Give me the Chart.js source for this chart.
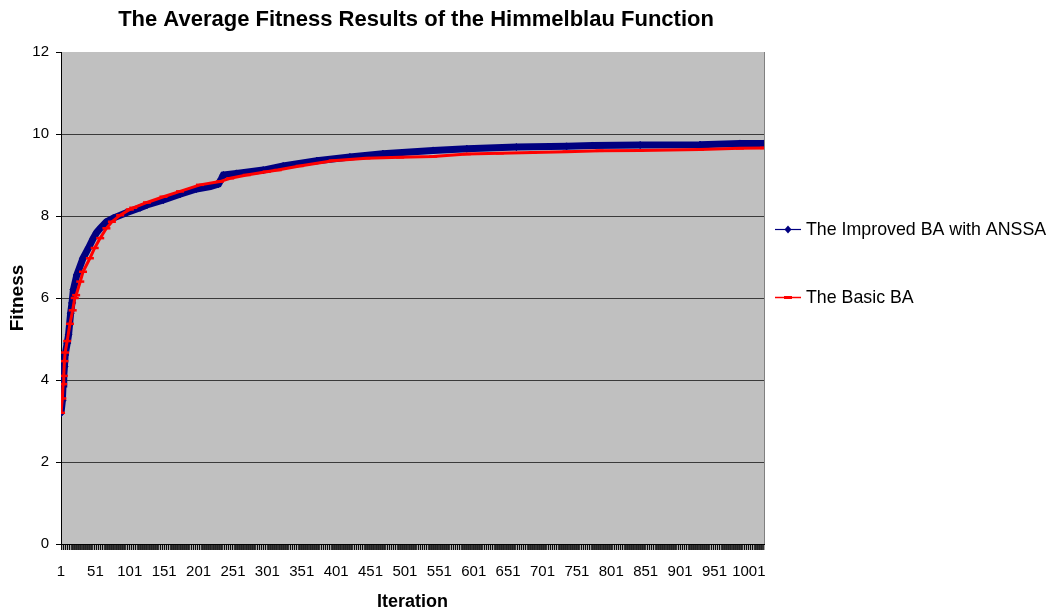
<!DOCTYPE html>
<html>
<head>
<meta charset="utf-8">
<title>Himmelblau average fitness</title>
<script src="https://cdn.jsdelivr.net/npm/chart.js@4.4.1/dist/chart.umd.min.js"></script>
<style>
  html, body { margin: 0; padding: 0; background: #fff; }
  #chart { display: block; }
</style>
</head>
<body>
<canvas id="chart" width="1056" height="616"></canvas>
<script>
// values (iteration -> average fitness)
const improvedIter = [1, 3, 4, 5, 6, 7, 10, 12, 15, 17, 19, 24, 33, 41, 48, 53, 58, 67, 77, 96,
  116, 126, 150, 174, 198, 218, 230, 234, 237, 256, 295, 324, 373, 421, 469, 542, 591, 663, 736,
  774, 843, 930, 988, 1023];
const improvedFit = [3.19, 3.5, 3.9, 4.1, 4.33, 4.61, 4.9, 5.1, 5.63, 5.88, 6.2, 6.56, 6.97, 7.22,
  7.46, 7.6, 7.7, 7.86, 7.95, 8.08, 8.2, 8.27, 8.39, 8.53, 8.66, 8.72, 8.78, 8.9, 9.0, 9.04, 9.12,
  9.22, 9.35, 9.44, 9.52, 9.6, 9.64, 9.68, 9.7, 9.72, 9.73, 9.74, 9.77, 9.77];

const basicIter = [1, 3, 4, 5, 6, 7, 10, 14, 18, 21, 23, 29, 33, 43, 50, 58, 67, 75, 87, 101, 106,
  126, 150, 174, 203, 232, 247, 271, 300, 316, 348, 396, 445, 494, 542, 591, 639, 687, 736, 784,
  843, 930, 988, 1023];
const basicFit = [3.2, 3.55, 3.9, 4.1, 4.46, 4.67, 4.95, 5.37, 5.7, 6.0, 6.07, 6.4, 6.64, 6.97,
  7.22, 7.46, 7.7, 7.86, 8.02, 8.16, 8.2, 8.33, 8.47, 8.6, 8.76, 8.84, 8.92, 9.0, 9.08, 9.12, 9.22,
  9.35, 9.41, 9.43, 9.45, 9.51, 9.53, 9.55, 9.57, 9.59, 9.6, 9.62, 9.65, 9.66];

const seriesNames = ['The Improved BA with ANSSA', 'The Basic BA'];
const xTickLabels = [1, 51, 101, 151, 201, 251, 301, 351, 401, 451, 501, 551, 601, 651, 701, 751,
  801, 851, 901, 951, 1001];
const yTickLabels = [0, 2, 4, 6, 8, 10, 12];
const lastIter = 1023;

const FONT = "'Liberation Sans', Arial, sans-serif";

// one tick mark per iteration, like the dense category ticks in the original
const xTickMarks = [];
for (let v = 1; v <= lastIter; v++) xTickMarks.push(v);

// grey plot area + right border
const plotBackground = {
  id: 'plotBackground',
  beforeDraw(chart) {
    const { ctx, chartArea: a } = chart;
    ctx.save();
    ctx.fillStyle = '#c0c0c0';
    ctx.fillRect(a.left, a.top, a.right - a.left, a.bottom - a.top);
    ctx.restore();
  },
  afterDatasetsDraw(chart) {
    const { ctx, chartArea: a } = chart;
    ctx.save();
    ctx.strokeStyle = '#808080';
    ctx.lineWidth = 1;
    ctx.beginPath();
    ctx.moveTo(a.right + 0.5, a.top);
    ctx.lineTo(a.right + 0.5, a.bottom);
    ctx.stroke();
    ctx.restore();
  }
};

// legend on the right: short line with the series marker in its middle
const sideLegend = {
  id: 'sideLegend',
  afterDraw(chart) {
    const { ctx, chartArea: a } = chart;
    const x0 = a.right + 11;
    const rows = [a.top + 177, a.top + 245];
    chart.data.datasets.forEach((ds, i) => {
      const y = rows[i];
      ctx.save();
      ctx.strokeStyle = ds.borderColor;
      ctx.lineWidth = i === 0 ? 1.2 : 1.5;
      ctx.beginPath();
      ctx.moveTo(x0, y + 0.5);
      ctx.lineTo(x0 + 26, y + 0.5);
      ctx.stroke();
      const cx = x0 + 13;
      ctx.fillStyle = ds.borderColor;
      if (ds.pointStyle === 'rectRot') {
        ctx.beginPath();
        ctx.moveTo(cx, y - 3.5);
        ctx.lineTo(cx + 3.5, y + 0.5);
        ctx.lineTo(cx, y + 4.5);
        ctx.lineTo(cx - 3.5, y + 0.5);
        ctx.closePath();
        ctx.fill();
      } else {
        ctx.fillRect(cx - 4, y - 1, 8, 3);
      }
      ctx.fillStyle = '#000';
      ctx.font = '17.8px ' + FONT;
      ctx.textBaseline = 'middle';
      ctx.textAlign = 'left';
      ctx.fillText(ds.label, x0 + 31, y + 1);
      ctx.restore();
    });
  }
};

new Chart(document.getElementById('chart'), {
  type: 'line',
  data: {
    datasets: [
      {
        label: seriesNames[0],
        data: improvedIter.map((x, i) => ({ x, y: improvedFit[i] })),
        borderColor: '#000080',
        backgroundColor: '#000080',
        borderWidth: 7,
        pointStyle: 'rectRot',
        pointRadius: 3.5,
        pointBorderWidth: 1,
        pointBackgroundColor: '#000080',
        pointBorderColor: '#000080',
        tension: 0,
        order: 2
      },
      {
        label: seriesNames[1],
        data: basicIter.map((x, i) => ({ x, y: basicFit[i] })),
        borderColor: '#ff0000',
        backgroundColor: '#ff0000',
        borderWidth: 3,
        pointStyle: 'line',
        pointRadius: 4,
        pointBorderWidth: 2.5,
        pointBorderColor: '#ff0000',
        tension: 0,
        order: 1
      }
    ]
  },
  options: {
    responsive: false,
    animation: false,
    events: [],
    layout: { padding: { left: 0, right: 224, top: 0, bottom: 0 } },
    plugins: {
      legend: { display: false },
      tooltip: { enabled: false },
      title: {
        display: true,
        text: 'The Average Fitness Results of the Himmelblau Function',
        color: '#000',
        font: { family: FONT, size: 22, weight: 'bold' },
        padding: { top: 7, bottom: 18.6 }
      }
    },
    scales: {
      x: {
        type: 'linear',
        min: 1,
        max: lastIter,
        afterBuildTicks: s => { s.ticks = xTickMarks.map(v => ({ value: v })); },
        afterFit: s => { s.height = 72; },
        ticks: {
          autoSkip: false,
          maxRotation: 0,
          padding: 13,
          color: '#000',
          font: { family: FONT, size: 15 },
          callback: v => (xTickLabels.includes(v) ? String(v) : '')
        },
        grid: {
          drawOnChartArea: false,
          drawTicks: true,
          tickLength: 6,
          tickWidth: c => (c.index % 3 === 2 ? 0.35 : 0.8),
          color: '#000',
          tickColor: '#000'
        },
        border: { color: '#000', width: 1 },
        title: {
          display: true,
          text: 'Iteration',
          color: '#000',
          font: { family: FONT, size: 18, weight: 'bold' },
          padding: { top: 0, bottom: 3 }
        }
      },
      y: {
        min: 0,
        max: 12,
        afterBuildTicks: s => { s.ticks = yTickLabels.map(v => ({ value: v })); },
        afterFit: s => { s.width = 61; },
        ticks: {
          padding: 7,
          color: '#000',
          font: { family: FONT, size: 15 }
        },
        grid: {
          color: c => (c.tick && c.tick.value === 12 ? 'rgba(0,0,0,0)' : '#3a3a3a'),
          tickColor: '#000',
          tickLength: 5,
          lineWidth: 1
        },
        border: { color: '#000', width: 1 },
        title: {
          display: true,
          text: 'Fitness',
          color: '#000',
          font: { family: FONT, size: 19, weight: 'bold' },
          padding: { top: 6, bottom: 0 }
        }
      },
      // invisible right-hand spacer so the title centres over the same span as in the original
      spacer: {
        position: 'right',
        display: true,
        min: 0,
        max: 1,
        afterFit: s => { s.width = 68; },
        ticks: { display: false },
        grid: { display: false, drawTicks: false },
        border: { display: false }
      }
    }
  },
  plugins: [plotBackground, sideLegend]
});
</script>
</body>
</html>
